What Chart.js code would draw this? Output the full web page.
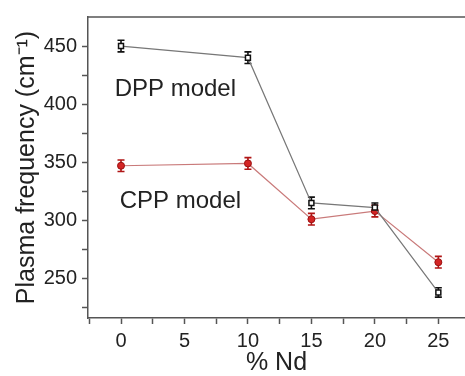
<!DOCTYPE html>
<html>
<head>
<meta charset="utf-8">
<script src="https://cdn.jsdelivr.net/npm/chart.js@4"></script>
<style>
  html, body { margin: 0; padding: 0; background: #fff; overflow: hidden; }
</style>
</head>
<body>
<canvas id="plasmaChart" width="465" height="376"></canvas>
<script>
// data
const ndPercent = [0, 10, 15, 20, 25];
const dppValues = [450, 440, 315, 311, 238];
const dppErrors = [5, 5, 5, 4, 4];
const cppValues = [347, 349, 301, 308, 264];
const cppErrors = [5, 5, 5, 5, 5];
const xMajorTicks = [0, 5, 10, 15, 20, 25];
const xMinorTicks = [-2.5, 2.5, 7.5, 12.5, 17.5, 22.5];
const yMajorTicks = [250, 300, 350, 400, 450];
const yMinorTicks = [225, 275, 325, 375, 425];

const textColor = "#222";
const axisColor = "#555";

// error bars, drawn before the markers so the markers sit on top
const errorBarPlugin = {
    id: "errorBars",
    beforeDatasetsDraw(chart) {
        const ctx = chart.ctx;
        const xs = chart.scales.x, ys = chart.scales.y;
        chart.data.datasets.forEach(ds => {
            if (!ds.errors) return;
            ctx.save();
            ctx.strokeStyle = ds.errorColor;
            ctx.lineWidth = 1.6;
            ds.data.forEach((pt, i) => {
                const px = xs.getPixelForValue(pt.x);
                const top = ys.getPixelForValue(pt.y + ds.errors[i]);
                const bot = ys.getPixelForValue(pt.y - ds.errors[i]);
                ctx.beginPath();
                ctx.moveTo(px, top); ctx.lineTo(px, bot);
                ctx.moveTo(px - 3.5, top); ctx.lineTo(px + 3.5, top);
                ctx.moveTo(px - 3.5, bot); ctx.lineTo(px + 3.5, bot);
                ctx.stroke();
            });
            ctx.restore();
        });
    }
};

// top frame line and the two model labels
const framePlugin = {
    id: "frame",
    afterDraw(chart, args, opts) {
        const ctx = chart.ctx;
        const a = chart.chartArea;
        ctx.save();
        ctx.strokeStyle = axisColor;
        ctx.lineWidth = 1.5;
        ctx.beginPath();
        ctx.moveTo(a.left, a.top);
        ctx.lineTo(a.right, a.top);
        ctx.stroke();

        ctx.fillStyle = textColor;
        ctx.font = "24px 'Liberation Sans', Arial, sans-serif";
        ctx.textAlign = "left";
        ctx.textBaseline = "alphabetic";
        opts.labels.forEach(l => {
            ctx.fillText(l.text, chart.scales.x.getPixelForValue(l.x), chart.scales.y.getPixelForValue(l.y));
        });
        ctx.restore();
    }
};

function toPoints(xs, ys) {
    return xs.map((x, i) => ({ x: x, y: ys[i] }));
}

function setTicks(majors, minors) {
    return function (scale) {
        scale.ticks = majors.concat(minors).sort((a, b) => a - b).map(v => ({ value: v }));
    };
}

function majorLabel(majors) {
    return function (value) {
        return majors.includes(value) ? String(value) : "";
    };
}

document.addEventListener("DOMContentLoaded", function () {
    const ctx = document.getElementById("plasmaChart").getContext("2d");

    new Chart(ctx, {
        type: "line",
        data: {
            datasets: [{
                label: "DPP model",
                data: toPoints(ndPercent, dppValues),
                errors: dppErrors,
                errorColor: "#111",
                borderColor: "#777",
                borderWidth: 1.2,
                pointStyle: "rect",
                pointRadius: 3.5,
                pointBackgroundColor: "#fff",
                pointBorderColor: "#111",
                pointBorderWidth: 1.5,
                tension: 0
            }, {
                label: "CPP model",
                data: toPoints(ndPercent, cppValues),
                errors: cppErrors,
                errorColor: "#b01515",
                borderColor: "#c97a7a",
                borderWidth: 1.2,
                pointStyle: "circle",
                pointRadius: 3.5,
                pointBackgroundColor: "#d42525",
                pointBorderColor: "#9a1010",
                pointBorderWidth: 1,
                tension: 0
            }]
        },
        options: {
            responsive: false,
            animation: false,
            devicePixelRatio: 1,
            layout: { autoPadding: false, padding: { top: 13, right: 0, left: 0, bottom: 0 } },
            plugins: {
                legend: { display: false },
                tooltip: { enabled: false },
                frame: {
                    labels: [
                        { text: "DPP model", x: -0.5, y: 407 },
                        { text: "CPP model", x: -0.1, y: 311 }
                    ]
                }
            },
            scales: {
                x: {
                    type: "linear",
                    min: -2.6,
                    max: 27.1,
                    afterBuildTicks: setTicks(xMajorTicks, xMinorTicks),
                    afterFit: scale => { scale.height = 58; },
                    grid: { drawOnChartArea: false, tickLength: 6, tickColor: axisColor, tickWidth: 1.5 },
                    border: { color: axisColor, width: 1.5 },
                    ticks: {
                        callback: majorLabel(xMajorTicks),
                        autoSkip: false,
                        maxRotation: 0,
                        padding: 5,
                        color: textColor,
                        font: { family: "'Liberation Sans', Arial, sans-serif", size: 20 }
                    },
                    title: {
                        display: true,
                        text: "% Nd",
                        color: textColor,
                        padding: { top: 0, bottom: 0 },
                        font: { family: "'Liberation Sans', Arial, sans-serif", size: 25, lineHeight: 1 }
                    }
                },
                y: {
                    type: "linear",
                    min: 216,
                    max: 475,
                    afterBuildTicks: setTicks(yMajorTicks, yMinorTicks),
                    afterFit: scale => { scale.width = 88; },
                    grid: { drawOnChartArea: false, tickLength: 6, tickColor: axisColor, tickWidth: 1.5 },
                    border: { color: axisColor, width: 1.5 },
                    ticks: {
                        callback: majorLabel(yMajorTicks),
                        autoSkip: false,
                        padding: 5,
                        color: textColor,
                        font: { family: "'Liberation Sans', Arial, sans-serif", size: 20 }
                    },
                    title: {
                        display: true,
                        text: "Plasma frequency (cm⁻¹)",
                        color: textColor,
                        padding: { top: 15, bottom: 0 },
                        font: { family: "'Liberation Sans', Arial, sans-serif", size: 25, lineHeight: 1 }
                    }
                }
            }
        },
        plugins: [errorBarPlugin, framePlugin]
    });
});
</script>
</body>
</html>
